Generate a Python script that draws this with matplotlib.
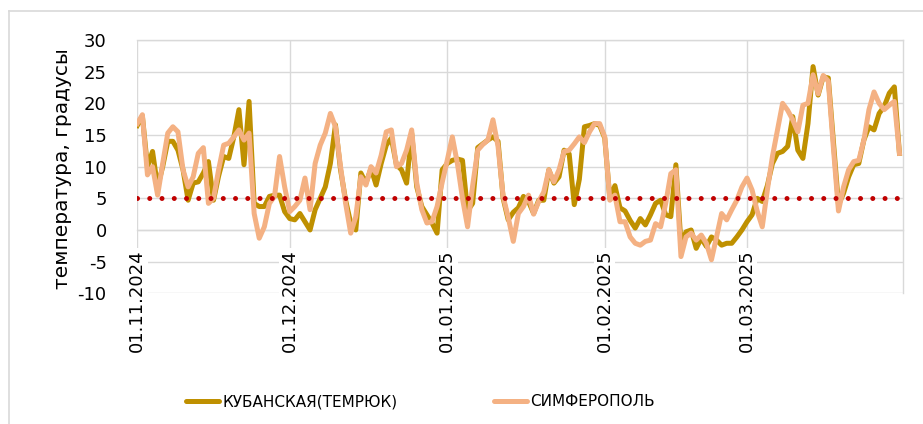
import numpy as np
import pandas as pd
import matplotlib
matplotlib.use("Agg")
from matplotlib import pyplot as plt
import matplotlib.dates as mdates
from matplotlib.lines import Line2D

# ----------- данные (чтение с графика) -----------
dates = pd.date_range("2024-11-01", "2025-03-31", freq="D")

kubanskaya = [
    16.5, 18.0, 10.0, 12.4, 6.8, 10.0, 14.0, 14.0, 12.6, 9.5,
    4.7, 7.4, 7.6, 9.0, 10.8, 4.7, 8.5, 11.6, 11.3, 14.7,
    19.0, 10.3, 20.3, 4.2, 3.7, 3.7, 5.3, 5.5, 5.5, 2.9,
    1.8, 1.6, 2.6, 1.3, 0.0, 3.2, 5.0, 6.8, 10.5, 16.6,
    9.5, 4.7, 1.1, 0.0, 9.0, 7.4, 9.7, 7.1, 10.5, 13.4,
    14.5, 10.3, 9.5, 7.4, 15.3, 6.8, 3.7, 2.4, 1.1, -0.5,
    9.5, 10.5, 11.0, 11.2, 11.0, 3.0, 4.2, 13.0, 13.6, 14.2,
    14.7, 14.0, 5.0, 1.6, 2.8, 3.5, 5.3, 4.5, 2.6, 4.7,
    4.7, 9.5, 7.4, 8.4, 12.6, 12.0, 4.0, 8.0, 16.3, 16.5,
    16.8, 16.5, 14.5, 5.0, 7.0, 3.5, 3.0, 1.5, 0.3, 1.8,
    0.8, 2.4, 4.2, 4.7, 2.4, 2.1, 10.3, -2.1, -0.3, 0.0,
    -2.9, -1.3, -2.6, -1.1, -1.6, -2.4, -2.1, -2.1, -1.1, 0.0,
    1.3, 2.4, 5.0, 4.5, 7.0, 10.5, 12.1, 12.4, 13.2, 17.9,
    12.6, 11.3, 16.8, 25.8, 21.3, 24.2, 24.0, 14.0, 4.0, 5.8,
    8.4, 10.3, 10.5, 14.2, 16.3, 15.8, 18.4, 19.5, 21.6, 22.6,
    12.1,
]

simferopol = [
    16.8, 18.2, 8.7, 10.0, 5.5, 10.5, 15.3, 16.3, 15.5, 9.5,
    6.8, 8.4, 12.1, 13.0, 4.2, 5.0, 9.5, 13.4, 13.7, 14.7,
    15.8, 14.2, 15.3, 2.6, -1.3, 0.5, 4.2, 5.3, 11.6, 6.8,
    2.9, 3.7, 4.7, 8.2, 3.2, 10.5, 13.4, 15.3, 18.4, 16.3,
    10.0, 4.2, -0.5, 2.1, 8.4, 7.1, 10.0, 9.0, 11.8, 15.5,
    15.8, 10.0, 10.5, 12.6, 15.8, 7.4, 3.2, 1.1, 1.3, 3.7,
    7.5, 11.0, 14.7, 10.5, 5.0, 0.5, 7.0, 12.6, 13.5, 14.2,
    17.4, 13.2, 5.3, 2.0, -1.8, 2.6, 3.7, 5.5, 2.5, 4.5,
    6.0, 9.5, 7.6, 9.5, 12.4, 12.6, 13.6, 14.7, 13.8, 15.5,
    16.8, 16.8, 14.7, 4.7, 5.5, 1.3, 1.3, -1.1, -2.1, -2.4,
    -1.8, -1.6, 1.0, 0.5, 4.2, 8.9, 9.5, -4.2, -1.1, -0.5,
    -1.6, -0.8, -2.1, -4.7, -1.1, 2.6, 1.6, 3.2, 4.7, 6.8,
    8.2, 6.3, 3.0, 0.5, 6.3, 11.6, 15.8, 20.0, 18.9, 17.4,
    15.5, 19.7, 20.0, 24.5, 21.5, 24.4, 23.5, 13.0, 3.0, 6.8,
    9.5, 10.8, 11.0, 14.2, 19.0, 21.8, 20.0, 19.0, 19.7, 20.3,
    12.1,
]

porog = [5] * len(dates)

nom_kub = "КУБАНСКАЯ(ТЕМРЮК)"
nom_simf = "СИМФЕРОПОЛЬ"
y_label = "температура, градусы"

# ----------- оформление -----------
c_kub = "#BF9000"
c_simf = "#F4B183"
c_red = "#C00000"
c_grid = "#D9D9D9"

plt.rcParams["font.family"] = ["DejaVu Sans"]
plt.rcParams["axes.unicode_minus"] = False

fig = plt.figure(figsize=(9.23, 4.24), dpi=100)
ax = fig.add_axes([137.3 / 923, 1 - 293.3 / 424, (903 - 137.3) / 923, (293.3 - 40) / 424])

ax.plot(dates, kubanskaya, color=c_kub, lw=3.6, solid_joinstyle="round", zorder=3)
ax.plot(dates, simferopol, color=c_simf, lw=3.6, solid_joinstyle="round", zorder=4)
ax.plot(dates, porog, color=c_red, lw=3.6, linestyle=(0, (0.001, 2.45)),
        dash_capstyle="round", zorder=5)

ax.set_ylim(-10, 30)
ax.set_yticks(np.arange(-10, 31, 5))
ax.set_xlim(dates[0], dates[0] + pd.Timedelta(days=150.7))

ax.xaxis.set_major_locator(mdates.MonthLocator())
ax.xaxis.set_major_formatter(mdates.DateFormatter("%d.%m.%Y"))

ax.spines["bottom"].set_position(("data", 0))
ax.spines["left"].set_visible(False)
for s in ["top", "right", "bottom"]:
    ax.spines[s].set_color(c_grid)
    ax.spines[s].set_linewidth(1)

ax.grid(True, color=c_grid, lw=1)
ax.xaxis.set_zorder(1)
ax.yaxis.set_zorder(0.5)

ax.tick_params(axis="x", length=0, pad=14, labelsize=13, labelrotation=90)
ax.tick_params(axis="y", length=0, pad=22, labelsize=13)
for lab in ax.get_xticklabels():
    lab.set_bbox(dict(facecolor="white", edgecolor="none", pad=1))

ax.set_ylabel(y_label, fontsize=14.5)
ax.yaxis.set_label_coords((72 - 137.3) / 765.7, 0.493)

# рамка диаграммы
fig.add_artist(Line2D([8.5 / 923, 8.5 / 923], [0, 1 - 11 / 424], color=c_grid, lw=1.2))
fig.add_artist(Line2D([8.5 / 923, 1], [1 - 11 / 424, 1 - 11 / 424], color=c_grid, lw=1.2))

handles = [Line2D([], [], color=c_kub, lw=3.6, solid_capstyle="round"),
           Line2D([], [], color=c_simf, lw=3.6, solid_capstyle="round")]
fig.legend(handles, [nom_kub, nom_simf], loc="center left",
           bbox_to_anchor=(178 / 923, 1 - 402 / 424), ncol=2, frameon=False,
           fontsize=11, handlelength=2.2, handletextpad=0.2, columnspacing=6.3,
           borderpad=0)

fig.savefig("out.png", dpi=100)
